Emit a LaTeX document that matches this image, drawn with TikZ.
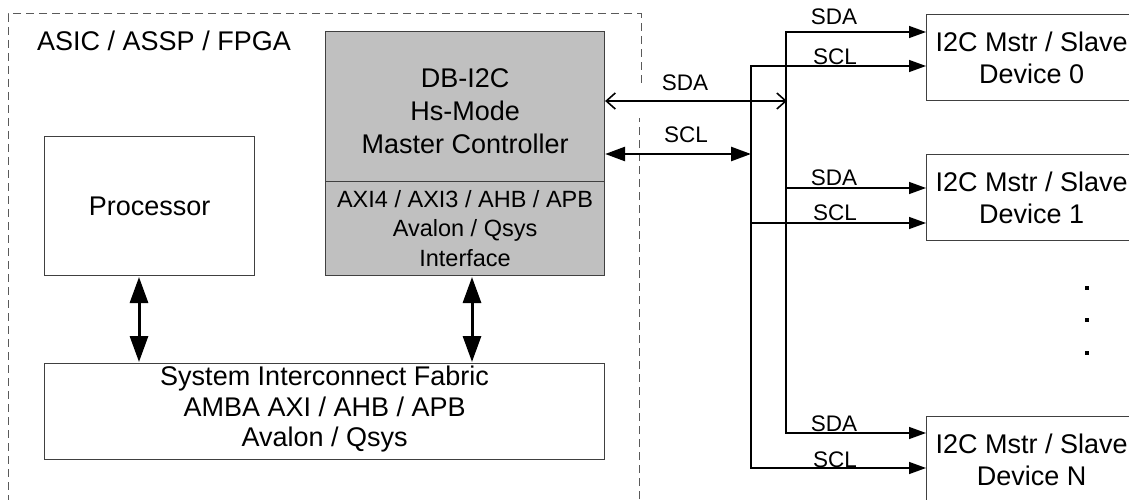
\documentclass[tikz,border=0pt]{standalone}
\usepackage{fontspec}
\setmainfont{Liberation Sans}
\usetikzlibrary{arrows.meta,calc}
\definecolor{boxgray}{RGB}{192,192,192}
\definecolor{dashgray}{RGB}{90,90,90}
\tikzset{
  x=1pt,y=-1pt,
  blockbox/.style={draw=black!75,line width=1.1pt,inner sep=0pt,align=center,font=\fontsize{27}{32}\selectfont},
  lab/.style={inner sep=0pt,font=\fontsize{22.5}{24}\selectfont},
  wire/.style={line width=1.4pt,draw=black},
  thinhead/.style={wire,-{Triangle[length=17pt,width=12pt]}},
  thickdbl/.style={line width=3pt,{Triangle[length=26pt,width=18pt]}-{Triangle[length=26pt,width=18pt]}},
  middbl/.style={line width=2.6pt,{Triangle[length=20pt,width=14pt]}-{Triangle[length=20pt,width=14pt]}},
  opendbl/.style={line width=2pt,{Straight Barb[length=9pt,width=16pt,line width=1.6pt]}-{Straight Barb[length=9pt,width=16pt,line width=1.6pt]}},
  dashline/.style={draw=dashgray,line width=1pt,dash pattern=on 8pt off 5pt},
  dotmark/.style={fill=black,inner sep=0pt,minimum size=4.5pt},
}
\begin{document}
\begin{tikzpicture}
\useasboundingbox (0,0) rectangle (1129,500);
% outer dashed boundary
\coordinate (oa) at (641,83);
\coordinate (ob) at (641,14);
\coordinate (oc) at (8,14);
\coordinate (od) at (8,500);
\coordinate (oe) at (639,500);
\coordinate (of) at (639,118);
\draw[dashline] (oa) -- (ob) -- (oc) -- (od) -- (oe) -- (of);
\node[lab,font=\fontsize{27}{28}\selectfont,anchor=west] (title) at (37,41) {ASIC / ASSP / FPGA};
% main blocks
\node[blockbox,anchor=north west,minimum width=210pt,minimum height=139pt] (proc) at (44,136) {Processor};
\node[blockbox,anchor=north west,fill=boxgray,minimum width=279pt,minimum height=150pt,font=\fontsize{27}{33}\selectfont] (ctrl) at (325,31)
  {\rule{0pt}{27.5pt}DB-I2C\\Hs-Mode\\Master Controller};
\node[blockbox,anchor=north west,fill=boxgray,minimum width=279pt,minimum height=94pt,font=\fontsize{23.5}{29.5}\selectfont] (ifc) at (325,181)
  {AXI4 / AXI3 / AHB / APB\\Avalon / Qsys\\Interface};
\node[blockbox,anchor=north west,minimum width=560pt,minimum height=96pt,font=\fontsize{27}{30.5}\selectfont] (fab) at (44,363)
  {System Interconnect Fabric\\AMBA AXI / AHB / APB\\Avalon / Qsys\rule[-10pt]{0pt}{1pt}};
% devices
\node[blockbox,anchor=north west,minimum width=210pt,minimum height=86pt] (d0) at (926,14) {I2C Mstr / Slave\\Device 0};
\node[blockbox,anchor=north west,minimum width=210pt,minimum height=86pt] (d1) at (926,154) {I2C Mstr / Slave\\Device 1};
\node[blockbox,anchor=north west,minimum width=210pt,minimum height=86pt] (dn) at (926,416) {I2C Mstr / Slave\\Device N};
% fabric arrows
\coordinate (pb) at (139,277);
\coordinate (fp) at (139,362);
\coordinate (ib) at (472,277);
\coordinate (fi) at (472,362);
\draw[thickdbl] (pb) -- (fp);
\draw[thickdbl] (ib) -- (fi);
% bus junctions
\coordinate (sdajct) at (787,101);
\coordinate (scljct) at (751,154);
\coordinate (sda0) at (786,32);
\coordinate (scl0) at (751,66);
\coordinate (sda1) at (786,188);
\coordinate (scl1) at (751,223);
\coordinate (sdan) at (786,433);
\coordinate (scln) at (751,468);
\draw[opendbl] (ctrl.east |- sdajct) -- (sdajct);
\draw[middbl] (ctrl.east |- scljct) -- (scljct);
\draw[wire,line cap=rect] (sda0) -- (sdan);
\draw[wire,line cap=rect] (scl0) -- (scln);
\draw[thinhead] (sda0) -- (d0.west |- sda0);
\draw[thinhead] (scl0) -- (d0.west |- scl0);
\draw[thinhead] (sda1) -- (d1.west |- sda1);
\draw[thinhead] (scl1) -- (d1.west |- scl1);
\draw[thinhead] (sdan) -- (dn.west |- sdan);
\draw[thinhead] (scln) -- (dn.west |- scln);
% labels
\node[lab] (l1) at (834,17) {SDA};
\node[lab] (l2) at (835,57) {SCL};
\node[lab] (l3) at (685,83) {SDA};
\node[lab] (l4) at (686,135) {SCL};
\node[lab] (l5) at (834,178) {SDA};
\node[lab] (l6) at (835,213) {SCL};
\node[lab] (l7) at (834,424) {SDA};
\node[lab] (l8) at (835,460) {SCL};
% ellipsis
\node[dotmark] (e1) at (1087,288) {};
\node[dotmark] (e2) at (1087,320) {};
\node[dotmark] (e3) at (1087,353) {};
\end{tikzpicture}
\end{document}
